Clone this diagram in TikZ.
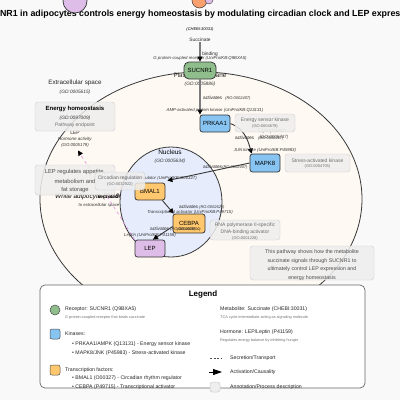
\documentclass[tikz,border=0pt]{standalone}
\usepackage{fontspec}
\setmainfont{Liberation Sans}
\usetikzlibrary{arrows.meta,calc}
\definecolor{bgc}{RGB}{249,249,249}
\definecolor{cellc}{RGB}{254,249,243}
\definecolor{nucc}{RGB}{230,236,252}
\definecolor{edgec}{RGB}{55,55,55}
\definecolor{greenc}{RGB}{143,190,140}
\definecolor{bluec}{RGB}{135,196,242}
\definecolor{orangec}{RGB}{255,200,110}
\definecolor{lavc}{RGB}{222,190,232}
\definecolor{orc}{RGB}{250,160,110}
\definecolor{annofill}{RGB}{238,238,238}
\definecolor{annoborder}{RGB}{205,205,205}
\definecolor{annotext}{RGB}{110,110,110}
\definecolor{linegray}{RGB}{125,125,125}
\definecolor{pinkc}{RGB}{232,160,225}
\begin{document}
\begin{tikzpicture}[x=1pt,y=-1pt,
  gnode/.style={draw=edgec,line width=0.8pt,rounded corners=2.5pt,minimum width=30pt,minimum height=17pt,inner sep=0pt,font=\fontsize{6}{7}\selectfont},
  anno/.style={draw=annoborder,fill=annofill,fill opacity=0.85,rounded corners=3pt,inner sep=0pt},
  atxt/.style={font=\fontsize{5}{6}\selectfont,text=annotext,inner sep=0pt},
  atxs/.style={font=\fontsize{4}{5}\selectfont,text=annotext,inner sep=0pt},
  lbl/.style={font=\fontsize{4.8}{5.5}\selectfont,text=black!85,inner sep=0pt},
  lbli/.style={font=\itshape\fontsize{4.3}{5}\selectfont,text=black!80,inner sep=0pt},
  comp/.style={font=\fontsize{6.3}{7.5}\selectfont,text=black!85,inner sep=0pt},
  compi/.style={font=\itshape\fontsize{4.8}{5.5}\selectfont,text=black!80,inner sep=0pt},
  actg/.style={-{Triangle[length=5pt,width=5pt,color=black]},line width=1.3pt,draw=linegray},
  actd/.style={-{Triangle[length=5pt,width=5pt,color=black]},line width=0.9pt,draw=edgec},
  legt/.style={font=\fontsize{5.2}{6}\selectfont,text=black!85,inner sep=0pt,anchor=west},
  legs/.style={font=\fontsize{3.8}{4.5}\selectfont,text=black!55,inner sep=0pt,anchor=west},
  ptxt/.style={font=\fontsize{5.3}{6}\selectfont,text=black!70,inner sep=0pt},
  ltxt/.style={font=\fontsize{5.8}{6.5}\selectfont,text=black!70,inner sep=0pt}
]
% background
\fill[bgc] (0,0) rectangle (400,400);
\useasboundingbox (0,0) rectangle (400,400);
% title
\node[font=\bfseries\fontsize{8.85}{10}\selectfont,inner sep=0pt] (title) at (200,14.5) {SUCNR1 in adipocytes controls energy homeostasis by modulating circadian clock and LEP expression};
% decorative circles at top
\filldraw[fill=lavc,draw=edgec,line width=0.7pt] (75,1) circle[radius=12pt];
\filldraw[fill=orc,draw=edgec,line width=0.5pt] (199.5,0.5) circle[radius=7.5pt];
\filldraw[fill=lavc,draw=edgec,line width=0.4pt] (209,0) circle[radius=4pt];
% cell
\filldraw[fill=cellc,draw=edgec,line width=0.8pt] (201,199) ellipse[x radius=161pt,y radius=127pt];
% compartment labels
\node[comp] (ecs) at (75,83) {Extracellular space};
\node[compi] (ecsgo) at (75,92) {(GO:0005615)};
\node[comp] (pm) at (200,75.5) {Plasma membrane};
\node[compi] (pmgo) at (200,84) {(GO:0005886)};
\node[font=\itshape\fontsize{6.5}{7.5}\selectfont,anchor=west,inner sep=0pt] (wa) at (55,197) {White adipocyte (CL:0000448)};
\node[font=\bfseries\fontsize{5}{6}\selectfont,inner sep=0pt] (secr) at (108,196.5) {secreted};
\node[lbli] (toecs) at (99,205) {to extracellular space};
\node[font=\fontsize{6}{7}\selectfont,text=black!45,inner sep=0pt] (cyto) at (272,131) {Cytoplasm};
\node[font=\itshape\fontsize{4.5}{5}\selectfont,text=black!70,inner sep=0pt] (cytogo) at (274,137.5) {(GO:0005737)};
% nucleus
\filldraw[fill=nucc,draw=edgec,line width=0.8pt] (171,202) ellipse[x radius=51pt,y radius=55pt];
\node[font=\fontsize{6.5}{7.5}\selectfont,inner sep=0pt] (nuc) at (170,152) {Nucleus};
\node[compi] (nucgo) at (170,161) {(GO:0005634)};
% nodes
\node[lbl] (succ) at (200,40) {Succinate};
\node[font=\itshape\fontsize{4}{5}\selectfont,inner sep=0pt] (succgo) at (200,29.5) {(CHEBI:30031)};
\node[gnode,fill=greenc,minimum width=32pt,rounded corners=5pt] (sucnr1) at (200,70.5) {SUCNR1};
\node[gnode,fill=bluec] (prkaa1) at (215,123.5) {PRKAA1};
\node[gnode,fill=bluec,minimum height=18pt] (mapk8) at (265,163) {MAPK8};
\node[gnode,fill=orangec] (bmal1) at (150,191.5) {BMAL1};
\node[gnode,fill=orangec,minimum width=32pt,minimum height=19pt] (cebpa) at (189,223.5) {CEBPA};
\node[font=\itshape\fontsize{3.6}{4}\selectfont,inner sep=0pt] (cebpago) at (189,229.5) {(GO:0003700)};
\node[gnode,fill=lavc] (lep) at (150,248.5) {LEP};
\coordinate (lepend) at (78,150.5);
% edges
\draw[actg] (succ.south) -- (sucnr1.north);
\draw[actg] (sucnr1.south) -- (sucnr1.south |- prkaa1.north);
\draw[actd] (prkaa1.east) to[out=-20,in=105] ($(mapk8.north west)+(2,0)$);
\draw[actd] (mapk8.west) -- ($(bmal1.north east)+(2,-2)$);
\draw[actd] ($(bmal1.south east)+(-3,0)$) to[out=-50,in=130] ($(cebpa.north west)+(1,0)$);
\draw[actd] ($(cebpa.west)+(0,3)$) -- ($(lep.north)+(3,0)$);
\draw[pinkc,line width=0.8pt,dashed,-{Triangle[length=5pt,width=5pt,color=black]}] (lep.north west) -- (lepend);
% edge labels
\node[lbl] (bind) at (210,54.5) {binding};
\node[lbli] (gpcr) at (200,58.5) {G protein-coupled receptor (UniProtKB:Q9BXA5)};
\node[lbl,anchor=west] (act1) at (203,98) {activates};
\node[lbli,anchor=west,font=\itshape\fontsize{4}{5}\selectfont] (act1ro) at (225,98) {(RO:0002407)};
\node[lbli] (ampk) at (215,110) {AMP-activated protein kinase (UniProtKB:Q13131)};
\node[lbl,anchor=west] (act2) at (235,138) {activates};
\node[lbli,anchor=west,font=\itshape\fontsize{4}{5}\selectfont] (act2ro) at (258,138) {(RO:0002407)};
\node[lbli] (junk) at (265,150) {JUN kinase (UniProtKB:P45983)};
\node[lbl,anchor=west] (act3) at (203,167) {activates};
\node[lbli,anchor=west,font=\itshape\fontsize{4}{5}\selectfont] (act3ro) at (222,167) {(RO:0002407)};
\node[lbli,anchor=east] (bmalp) at (197,178) {Circadian clock regulator (UniProtKB:O00327)};
\node[lbl,anchor=west] (act4) at (179,207) {activates};
\node[lbli,anchor=west,font=\itshape\fontsize{4}{5}\selectfont] (act4ro) at (199,207) {(RO:0002629)};
\node[lbli] (cebpap) at (190,212.5) {Transcriptional activator (UniProtKB:P49715)};
\node[lbl,anchor=west] (act5) at (150,229) {activates};
\node[lbli,anchor=west,font=\itshape\fontsize{4}{5}\selectfont] (act5ro) at (170,229.5) {(RO:0002629)};
\node[lbli] (leptin) at (150,235) {Leptin (UniProtKB:P41159)};
\node[lbl,font=\fontsize{5}{6}\selectfont] (leplbl) at (75,133) {LEP};
\node[lbli,font=\itshape\fontsize{4.5}{5}\selectfont] (hormact) at (75,139.5) {Hormone activity};
\node[lbli] (hormgo) at (75,145) {(GO:0005179)};
% annotation boxes
\node[anno,minimum width=80pt,minimum height=29pt] (ehbox) at (75,116.5) {};
\node[font=\bfseries\fontsize{6}{7}\selectfont,inner sep=0pt] (eh) at (75,109) {Energy homeostasis};
\node[compi] (ehgo) at (75,118) {(GO:0097009)};
\node[atxt] (ehpe) at (75,125) {Pathway endpoint};
\node[anno,minimum width=60pt,minimum height=18pt] (esbox) at (265,123) {};
\node[atxt] (es) at (265,120.5) {Energy sensor kinase};
\node[atxs] (esgo) at (265,126.5) {(GO:0004679)};
\node[anno,minimum width=65pt,minimum height=18pt] (sabox) at (317.5,163) {};
\node[atxt] (sa) at (317.5,160.5) {Stress-activated kinase};
\node[atxs] (sago) at (317.5,166.5) {(GO:0004705)};
\node[anno,minimum width=80pt,minimum height=30pt] (lrbox) at (75,180) {};
\node[ltxt] (lr1) at (75,172) {LEP regulates appetite,};
\node[ltxt] (lr2) at (75,181) {metabolism and};
\node[ltxt] (lr3) at (75,189.5) {fat storage};
\node[anno,minimum width=50pt,minimum height=18pt] (crbox) at (120,181) {};
\node[atxt] (cr) at (120,178) {Circadian regulation};
\node[atxs] (crgo) at (120,184.5) {(GO:0032922)};
\node[anno,minimum width=70pt,minimum height=20pt] (rnabox) at (245,230) {};
\node[atxt] (rna1) at (245,225) {RNA polymerase II-specific};
\node[atxt] (rna2) at (245,232) {DNA-binding activator};
\node[atxs] (rnago) at (245,238) {(GO:0001228)};
\node[anno,minimum width=124pt,minimum height=34pt] (pwbox) at (312,263) {};
\node[ptxt] (pw1) at (312,252) {This pathway shows how the metabolite};
\node[ptxt] (pw2) at (312,261) {succinate signals through SUCNR1 to};
\node[ptxt] (pw3) at (312,269.5) {ultimately control LEP expression and};
\node[ptxt] (pw4) at (312,278) {energy homeostasis};
% legend
\node[draw=black!60,fill=white,rounded corners=5pt,line width=0.7pt,minimum width=325pt,minimum height=103pt,inner sep=0pt] (legend) at (202.5,336.5) {};
\node[font=\bfseries\fontsize{8}{9}\selectfont,inner sep=0pt] (legt) at (203,294.5) {Legend};
\filldraw[fill=greenc,draw=black!70,line width=0.5pt] (55,310) circle[radius=5pt];
\node[legt] (l1) at (65,309.5) {Receptor: SUCNR1 (Q9BXA5)};
\node[legs] (l1s) at (65,318) {G protein-coupled receptor that binds succinate};
\filldraw[fill=bluec,draw=black!70,line width=0.5pt,rounded corners=2pt] (50,329) rectangle (60,339);
\node[legt] (l2) at (65,333.5) {Kinases:};
\node[legt] (l2a) at (72,344) {• PRKAA1/AMPK (Q13131) - Energy sensor kinase};
\node[legt] (l2b) at (72,353) {• MAPK8/JNK (P45983) - Stress-activated kinase};
\filldraw[fill=orangec,draw=black!70,line width=0.5pt,rounded corners=2pt] (50,365) rectangle (60,375);
\node[legt] (l3) at (65,370) {Transcription factors:};
\node[legt] (l3a) at (72,378.5) {• BMAL1 (O00327) - Circadian rhythm regulator};
\node[legt] (l3b) at (72,387) {• CEBPA (P49715) - Transcriptional activator};
\node[legt] (l4) at (220,309.5) {Metabolite: Succinate (CHEBI:30031)};
\node[legs] (l4s) at (220,318) {TCA cycle intermediate acting as signaling molecule};
\node[legt] (l5) at (220,332.5) {Hormone: LEP/Leptin (P41159)};
\node[legs] (l5s) at (220,341) {Regulates energy balance by inhibiting hunger};
\coordinate (ds1) at (210,358);
\coordinate (ds2) at (221,358);
\draw[black!70,line width=0.7pt,dash pattern=on 2pt off 1.5pt] (ds1) -- (ds2);
\node[legt] (l6) at (230,358) {Secretion/Transport};
\coordinate (ar1) at (209,372);
\coordinate (ar2) at (222,372);
\draw[line width=0.8pt,-{Triangle[length=9pt,width=6pt]}] (ar1) -- (ar2);
\node[legt] (l7) at (230,372.5) {Activation/Causality};
\filldraw[fill=annofill,draw=annoborder,line width=0.5pt,rounded corners=2.5pt] (210,382) rectangle (220,392);
\node[legt] (l8) at (230,387) {Annotation/Process description};
\end{tikzpicture}
\end{document}
